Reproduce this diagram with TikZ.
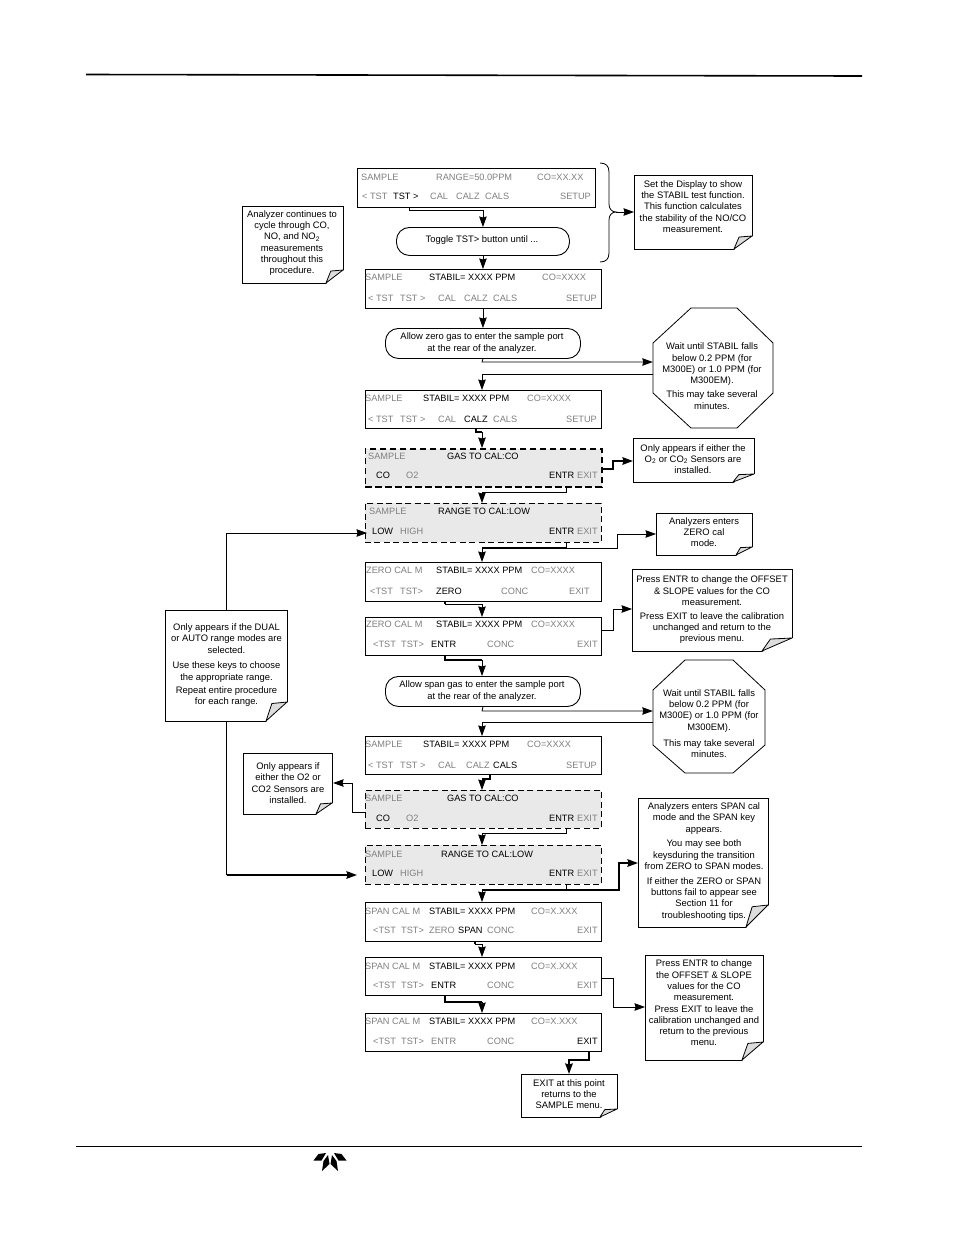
\documentclass[tikz,border=0pt]{standalone}
\usepackage{fontspec}
\setmainfont{Liberation Sans}
\usetikzlibrary{arrows.meta}
\definecolor{grayt}{HTML}{808080}
\definecolor{panelfill}{HTML}{E9E9E9}
\definecolor{foldfill}{HTML}{DDDDDD}
\newcount\tcnt
\tikzset{
  pnl/.style={draw=black,line width=.8pt,fill=white,inner sep=0pt,anchor=north west},
  pnlthin/.style={draw=black,line width=.8pt,dash pattern=on 6pt off 3.5pt,fill=panelfill,inner sep=0pt,anchor=north west},
  pnlthick/.style={draw=black,line width=1.6pt,dash pattern=on 6.5pt off 3.5pt,fill=panelfill,inner sep=0pt,anchor=north west},
  txt/.style={font=\fontsize{9.2}{11.2}\selectfont,inner sep=0pt,anchor=west,yshift=-.6pt},
  gl/.style={txt,text=grayt},
  bl/.style={txt,text=black},
  body/.style={font=\fontsize{9.4}{11.3}\selectfont,align=center,inner sep=0pt,text=black},
  arr/.style={line width=.8pt,-{Stealth[length=10.5pt,width=7.5pt,inset=1pt]}},
  arrt/.style={line width=1.8pt,-{Stealth[length=10.5pt,width=7.5pt,inset=1pt]}},
  lin/.style={line width=.8pt},
  lint/.style={line width=1.8pt},
  oval/.style={draw=black,line width=.9pt,fill=white,rounded corners=13pt,inner sep=0pt,anchor=north west,body},
}
% panel: name, x1,y1,x2,y2, style
\newcommand{\panelbox}[6]{%
  \pgfmathsetmacro{\pw}{#4-#2}\pgfmathsetmacro{\ph}{#5-#3}%
  \node[#6,minimum width=\pw pt,minimum height=\ph pt] (#1) at (#2,#3) {};}
% text labels
\newcommand{\tg}[3]{\global\advance\tcnt by 1 \node[gl] (t\the\tcnt) at (#1,#2) {#3};}
\newcommand{\tb}[3]{\global\advance\tcnt by 1 \node[bl] (t\the\tcnt) at (#1,#2) {#3};}
% note: name,x1,y1,x2,y2,foldw,foldh,cx,cy,text
\newcommand{\notebox}[9]{%
  \pgfmathsetmacro{\pw}{#4-#2}\pgfmathsetmacro{\ph}{#5-#3}%
  \pgfmathsetmacro{\fx}{#4-#6}\pgfmathsetmacro{\fy}{#5-#7}%
  \pgfmathsetmacro{\ix}{#4-#6+#6*0.28}\pgfmathsetmacro{\iy}{#5-#7+#7*0.08}%
  \node[draw=black,line width=1.1pt,fill=white,inner sep=0pt,anchor=north west,minimum width=\pw pt,minimum height=\ph pt] (#1) at (#2,#3) {};
  \fill[white] (#4+1,\fy) -- (#4+1,#5+1) -- (\fx,#5+1) -- cycle;
  \draw[line width=.8pt,fill=foldfill,line join=round] (#4,\fy) -- (\fx,#5) -- (\ix,\iy) -- cycle;
  \notetext{#1}{#8}{#9}}
\newcommand{\notetext}[4]{\node[body] (#1-t) at (#2,#3) {#4};}
\begin{document}
\begin{tikzpicture}[x=1pt,y=-1pt]
\useasboundingbox (0,0) rectangle (954,1235);
% rules
\coordinate (r1a) at (86,74.5); \coordinate (r1b) at (862,76);
\draw[line width=1.6pt] (r1a) -- (r1b);
\coordinate (r2a) at (76,1146.5); \coordinate (r2b) at (862,1146.5);
\draw[line width=.9pt] (r2a) -- (r2b);
% logo
\fill (313.5,1160.5) -- (318.5,1154) -- (326,1153) -- (321.5,1160.5) -- cycle;
\fill (346.5,1160.5) -- (341.5,1154) -- (334,1153) -- (338.5,1160.5) -- cycle;
\fill (322,1171) -- (323.5,1161) -- (328,1155) -- (329.5,1164) -- cycle;
\fill (338,1171) -- (336.5,1161) -- (332,1155) -- (330.5,1164) -- cycle;
% panels
\panelbox{p1}{357}{168}{595}{207}{pnl}
\panelbox{p2}{365}{269}{601}{308}{pnl}
\panelbox{p3}{365}{390}{601}{428}{pnl}
\panelbox{gas1}{364.5}{448}{601}{486}{pnlthick}
\panelbox{rng1}{364.5}{503}{601}{542}{pnlthin}
\panelbox{z1}{365}{562}{601}{601}{pnl}
\panelbox{z2}{365}{617}{601}{655}{pnl}
\panelbox{s1}{365}{736}{601}{774}{pnl}
\panelbox{gas2}{365}{790}{601}{828}{pnlthin}
\panelbox{rng2}{365}{845}{601}{884}{pnlthin}
\panelbox{sp1}{365}{902}{601}{941}{pnl}
\panelbox{sp2}{365}{957}{601}{995}{pnl}
\panelbox{sp3}{365}{1013}{601}{1051}{pnl}
% ovals
\panelbox{ov1}{396}{227}{569}{255}{oval}
\node[body] (ov1-t) at (482,240.5) {Toggle TST> button until ...};
\panelbox{ov2}{385}{328}{580}{358}{oval}
\node[body] (ov2-t) at (482,343) {Allow zero gas to enter the sample port\\at the rear of the analyzer.};
\panelbox{ov3}{385}{676}{580}{706}{oval}
\node[body] (ov3-t) at (482,691) {Allow span gas to enter the sample port\\at the rear of the analyzer.};
% octagons
\node[inner sep=0pt,minimum width=120pt,minimum height=120pt] (oct1) at (713,368) {};
\draw[line width=.8pt,fill=white] (691,308) -- (737,308) -- (773,343) -- (773,393) -- (737,428) -- (691,428) -- (653,393) -- (653,343) -- cycle;
\node[body] (oct1-t) at (712,376) {Wait until STABIL falls\\below 0.2 PPM (for\\M300E) or 1.0 PPM (for\\M300EM).\\[2.8pt]This may take several\\minutes.};
\node[inner sep=0pt,minimum width=112pt,minimum height=113pt] (oct2) at (709,716.5) {};
\draw[line width=.8pt,fill=white] (685,660) -- (733,660) -- (765,690) -- (765,745) -- (733,773) -- (685,773) -- (653,745) -- (653,690) -- cycle;
\node[body] (oct2-t) at (709,723.5) {Wait until STABIL falls\\below 0.2 PPM (for\\M300E) or 1.0 PPM (for\\M300EM).\\[4.5pt]This may take several\\minutes.};
% notes
\notebox{n1}{634}{175}{752}{249}{18}{13}{693}{206.5}{Set the Display to show\\the STABIL test function.\\This function calculates\\the stability of the NO/CO\\measurement.}
\notebox{n2}{242}{206}{343}{283}{17}{13}{292}{243}{Analyzer continues to\\cycle through CO,\\NO, and NO\textsubscript{2}\\measurements\\throughout this\\procedure.}
\notebox{n3}{633}{438}{754}{482}{21}{8}{693}{459}{Only appears if either the\\O\textsubscript{2} or CO\textsubscript{2} Sensors are\\installed.}
\notebox{n4}{656}{513}{752}{555}{16}{8}{704}{532}{Analyzers enters\\ZERO cal\\mode.}
\notebox{n5}{632}{569}{792}{651}{30}{13}{712}{610}{Press ENTR to change the OFFSET\\\& SLOPE values for the CO\\measurement.\\[2.5pt]Press EXIT to leave the calibration\\unchanged and return to the\\previous menu.}
\notebox{n6}{165}{610}{287}{721}{21}{19}{226.5}{665}{Only appears if the DUAL\\or AUTO range modes are\\selected.\\[4.5pt]Use these keys to choose\\the appropriate range.\\[1.5pt]Repeat entire procedure\\for each range.}
\notebox{n7}{243}{753}{332}{814}{16}{11}{288}{783}{Only appears if\\either the O2 or\\CO2 Sensors are\\installed.}
\notebox{n8}{638}{798}{768}{927}{22}{22}{704}{861.5}{Analyzers enters SPAN cal\\mode and the SPAN key\\appears.\\[3.5pt]You may see both\\keysduring the transition\\from ZERO to SPAN modes.\\[3.5pt]If either the ZERO or SPAN\\buttons fail to appear see\\Section 11 for\\troubleshooting tips.}
\notebox{n9}{645}{955}{763}{1060}{21}{18}{704}{1003}{Press ENTR to change\\the OFFSET \& SLOPE\\values for the CO\\measurement.\\Press EXIT to leave the\\calibration unchanged and\\return to the previous\\menu.}
\notebox{n10}{521}{1074}{617}{1117}{17}{8}{569}{1094}{EXIT at this point\\returns to the\\SAMPLE menu.}
% brace
\coordinate (bt) at (616,212);
\draw[line width=.8pt] (600,163) .. controls (606,163) and (609,166) .. (609,172) -- (609,204) .. controls (609,209) and (612,212) .. (bt) .. controls (612,212) and (609,215) .. (609,220) -- (609,253) .. controls (609,259) and (606,262) .. (600,262);
% connectors
\draw[arr] (bt) -- (n1.west |- bt);
\draw[arr] (409,0 |- p1.south) -- (409,210) -| (ov1.north);
\draw[arr] (ov1.south) -- (p2.north -| ov1.south);
\draw[arr] (p2.south -| ov2.north) -- (ov2.north);
\draw[arr] (ov2.south) -- (482,362) -- (oct1.west |- 0,362);
\draw[arr] (oct1.west |- 0,374) -- (482,374) -- (p3.north -| 482,0);
\draw[lin,line width=1.6pt] (476,0 |- p3.south) -- (476,432) -- (482,432);
\draw[arr] (482,432) -- (482,0 |- gas1.north);
\draw[arrt] (gas1.east |- 0,469) -- (613,469) -- (613,461) -- (n3.west |- 0,461);
\draw[lin] (566,0 |- gas1.south) -- (566,492) -- (482,492);
\draw[arr] (482,492) -- (482,0 |- rng1.north);
\draw[lin] (566,0 |- rng1.south) -- (566,548);
\draw[lint] (566,548) -- (482,548);
\draw[arr] (482,548) -- (482,0 |- z1.north);
\draw[arr] (566,548) -- (617,548) -- (617,534) -- (n4.west |- 0,534);
\draw[lint] (445,0 |- z1.south) -- (445,604);
\draw[lin] (445,604) -- (482,604);
\draw[arr] (482,604) -- (482,0 |- z2.north);
\draw[lint] (445,0 |- z2.south) -- (445,660) -- (482,660);
\draw[arr] (482,660) -- (482,0 |- ov3.north);
\draw[arr] (z2.east |- 0,630) -- (613,630) -- (613,609) -- (n5.west |- 0,609);
\draw[arr] (ov3.south) -- (482,711) -- (oct2.west |- 0,711);
\draw[arr] (oct2.west |- 0,722) -- (482,722) -- (482,0 |- s1.north);
\draw[lint] (490,0 |- s1.south) -- (490,779) -- (482,779);
\draw[arr] (482,779) -- (482,0 |- gas2.north);
\draw[arr] (gas2.west |- 0,812) -- (352,812) -- (352,783) -- (n7.east |- 0,783);
\draw[lin] (566,0 |- gas2.south) -- (566,833) -- (482,833);
\draw[arr] (482,833) -- (482,0 |- rng2.north);
\draw[lin] (566,0 |- rng2.south) -- (566,890);
\draw[lint] (566,890) -- (482,890);
\draw[arr] (482,890) -- (482,0 |- sp1.north);
\draw[arrt] (566,890) -- (619,890) -- (619,863) -- (n8.west |- 0,863);
\draw[lint] (475,0 |- sp1.south) -- (475,944);
\draw[lin] (475,944) -- (482,944);
\draw[arr] (482,944) -- (482,0 |- sp2.north);
\draw[lint] (445,0 |- sp2.south) -- (445,1002) -- (482,1002);
\draw[arr] (482,1002) -- (482,0 |- sp3.north);
\draw[arr] (sp2.east |- 0,978) -- (613,978) -- (613,1007) -- (n9.west |- 0,1007);
\draw[arrt] (589,0 |- sp3.south) -- (589,1060) -- (569,1060) -- (569,0 |- n10.north);
\draw[lin] (n6.north) -- (226.5,533);
\draw[arr] (226.5,533) -- (367,533);
\draw[lin] (n6.south) -- (226.5,875);
\draw[arrt] (226.5,875) -- (357,875);
% panel text
\tg{361}{177}{SAMPLE}\tg{436}{177}{RANGE=50.0PPM}\tg{537}{177}{CO=XX.XX}
\tg{362}{196}{< TST}\tb{393}{196}{TST >}\tg{430}{196}{CAL}\tg{456}{196}{CALZ}\tg{485}{196}{CALS}\tg{560}{196}{SETUP}
\tg{365}{277}{SAMPLE}\tb{429}{277}{STABIL= XXXX PPM}\tg{542}{277}{CO=XXXX}
\tg{368}{298}{< TST}\tg{400}{298}{TST >}\tg{438}{298}{CAL}\tg{464}{298}{CALZ}\tg{493}{298}{CALS}\tg{566}{298}{SETUP}
\tg{365}{398}{SAMPLE}\tb{423}{398}{STABIL= XXXX PPM}\tg{527}{398}{CO=XXXX}
\tg{368}{419}{< TST}\tg{400}{419}{TST >}\tg{438}{419}{CAL}\tb{464}{419}{CALZ}\tg{493}{419}{CALS}\tg{566}{419}{SETUP}
\tg{368}{456}{SAMPLE}\tb{447}{456}{GAS TO CAL:CO}
\tb{376}{475}{CO}\tg{406}{475}{O2}\tb{549}{475}{ENTR}\tg{577}{475}{EXIT}
\tg{369}{511}{SAMPLE}\tb{438}{511}{RANGE TO CAL:LOW}
\tb{372}{531}{LOW}\tg{400}{531}{HIGH}\tb{549}{531}{ENTR}\tg{577}{531}{EXIT}
\tg{366}{570}{ZERO CAL M}\tb{436}{570}{STABIL= XXXX PPM}\tg{531}{570}{CO=XXXX}
\tg{370}{591}{<TST}\tg{400}{591}{TST>}\tb{436}{591}{ZERO}\tg{501}{591}{CONC}\tg{569}{591}{EXIT}
\tg{366}{624}{ZERO CAL M}\tb{436}{624}{STABIL= XXXX PPM}\tg{531}{624}{CO=XXXX}
\tg{373}{644}{<TST}\tg{401}{644}{TST>}\tb{431}{644}{ENTR}\tg{487}{644}{CONC}\tg{577}{644}{EXIT}
\tg{365}{744}{SAMPLE}\tb{423}{744}{STABIL= XXXX PPM}\tg{527}{744}{CO=XXXX}
\tg{368}{765}{< TST}\tg{400}{765}{TST >}\tg{438}{765}{CAL}\tg{466}{765}{CALZ}\tb{493}{765}{CALS}\tg{566}{765}{SETUP}
\tg{365}{798}{SAMPLE}\tb{447}{798}{GAS TO CAL:CO}
\tb{376}{818}{CO}\tg{406}{818}{O2}\tb{549}{818}{ENTR}\tg{577}{818}{EXIT}
\tg{365}{854}{SAMPLE}\tb{441}{854}{RANGE TO CAL:LOW}
\tb{372}{873}{LOW}\tg{400}{873}{HIGH}\tb{549}{873}{ENTR}\tg{577}{873}{EXIT}
\tg{365}{911}{SPAN CAL M}\tb{429}{911}{STABIL= XXXX PPM}\tg{531}{911}{CO=X.XXX}
\tg{373}{930}{<TST}\tg{401}{930}{TST>}\tg{429}{930}{ZERO}\tb{458}{930}{SPAN}\tg{487}{930}{CONC}\tg{577}{930}{EXIT}
\tg{365}{966}{SPAN CAL M}\tb{429}{966}{STABIL= XXXX PPM}\tg{531}{966}{CO=X.XXX}
\tg{373}{985}{<TST}\tg{401}{985}{TST>}\tb{431}{985}{ENTR}\tg{487}{985}{CONC}\tg{577}{985}{EXIT}
\tg{365}{1021}{SPAN CAL M}\tb{429}{1021}{STABIL= XXXX PPM}\tg{531}{1021}{CO=X.XXX}
\tg{373}{1041}{<TST}\tg{401}{1041}{TST>}\tg{431}{1041}{ENTR}\tg{487}{1041}{CONC}\tb{577}{1041}{EXIT}
\end{tikzpicture}
\end{document}
